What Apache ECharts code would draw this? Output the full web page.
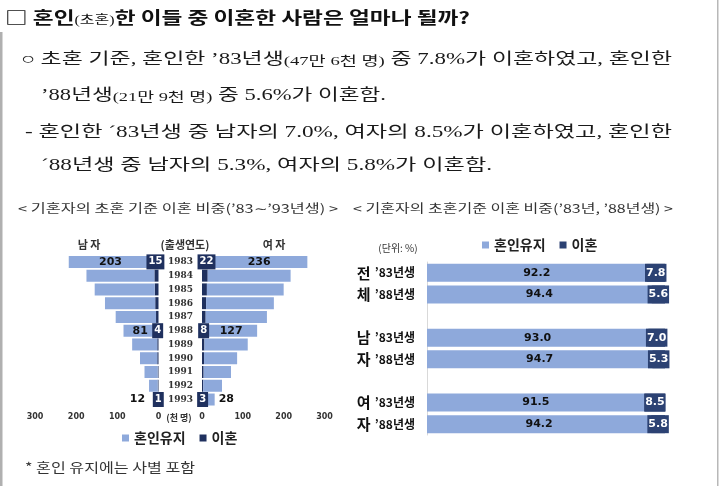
<!DOCTYPE html>
<html><head><meta charset="utf-8">
<script src="https://cdn.jsdelivr.net/npm/echarts@6/dist/echarts.min.js"></script>
<style>html,body{margin:0;padding:0;background:#fff}#c{width:720px;height:486px}</style>
</head><body><div id="c"></div>
<script>
// ---- data ----
const years = ['1983','1984','1985','1986','1987','1988','1989','1990','1991','1992','1993'];
const maleMaintain   = [203,165,146,122,98,81,61,42,32,21,12];
const maleDivorce    = [15,10,9,8,6,4,3,3,2,2,1];
const femaleMaintain = [236,203,188,166,150,127,106,81,67,46,28];
const femaleDivorce  = [22,14,12,10,9,8,6,5,4,3,3];
const labeledYears = ['1983','1988','1993'];
const pyramidTicks = [0,100,200,300];

const rowGroup = ['전','체','','남','자','','여','자'];
const rowYear  = ['’83년생','’88년생','','’83년생','’88년생','','’83년생','’88년생'];
const shareMaintain = [92.2,94.4,null,93.0,94.7,null,91.5,94.2];
const shareDivorce  = [7.8,5.6,null,7.0,5.3,null,8.5,5.8];
const seriesNames = ['혼인유지','이혼'];

// ---- styles ----
const LIGHT = '#8EA9DB', DARK_L = '#1F305E', DARK_R = '#2C4273';
const SANS = '"Noto Sans CJK KR", sans-serif';
const SERIF = '"Liberation Serif", "Noto Sans CJK KR", serif';
const NUM = '"DejaVu Sans", sans-serif';

const mctx = document.createElement('canvas').getContext('2d');
function fitText(segs, x, y, width, fill) {
  let total = 0; const rich = {}; let str = '';
  segs.forEach((s, i) => {
    const fw = s.w || 'normal', ff = s.f || SERIF;
    mctx.font = fw + ' ' + s.s + 'px ' + ff;
    total += mctx.measureText(s.t).width;
    rich['p' + i] = {fontSize: s.s, fontWeight: fw, fontFamily: ff, fill: fill, verticalAlign: 'bottom'};
    str += '{p' + i + '|' + s.t + '}';
  });
  return {type: 'text', x: x, y: y, scaleX: width / total, silent: true,
    style: {text: str, rich: rich, fill: fill, textAlign: 'left', align: 'left',
            textVerticalAlign: 'middle', verticalAlign: 'middle'}};
}
function centerText(t, x, y, font) {
  return {type:'text', x:x, y:y, silent:true, style:{text:t, font:font, fill:'#333', textAlign:'center', align:'center', textVerticalAlign:'middle', verticalAlign:'middle'}};
}

const graphics = [
  {type:'rect', shape:{x:0,y:32,width:2.5,height:454}, style:{fill:'#b0b0b0'}, silent:true},
  {type:'rect', shape:{x:717,y:0,width:1.5,height:486}, style:{fill:'#b8b8b8'}, silent:true},
  fitText([{t:'□ 혼인', s:17, w:'bold', f:SANS},{t:'(초혼)', s:12, f:SERIF},{t:'한 이들 중 이혼한 사람은 얼마나 될까?', s:17, w:'bold', f:SANS}], 5, 18, 465, '#111'),
  fitText([{t:'○ 초혼 기준, 혼인한 ’83년생', s:16},{t:'(47만 6천 명)', s:13},{t:' 중 7.8%가 이혼하였고, 혼인한', s:16}], 21, 60, 651, '#1a1a1a'),
  fitText([{t:'’88년생', s:16},{t:'(21만 9천 명)', s:13},{t:' 중 5.6%가 이혼함.', s:16}], 41, 96, 345, '#1a1a1a'),
  fitText([{t:'- 혼인한 ´83년생 중 남자의 7.0%, 여자의 8.5%가 이혼하였고, 혼인한', s:16}], 25, 133, 647, '#1a1a1a'),
  fitText([{t:'´88년생 중 남자의 5.3%, 여자의 5.8%가 이혼함.', s:16}], 41, 166, 451, '#1a1a1a'),
  fitText([{t:'< 기혼자의 초혼 기준 이혼 비중(’83∼’93년생) >', s:12, f:SANS}], 18, 208, 320, '#333'),
  fitText([{t:'< 기혼자의 초혼기준 이혼 비중(’83년, ’88년생) >', s:12, f:SANS}], 353, 208, 320, '#333'),
  fitText([{t:'* 혼인 유지에는 사별 포함', s:13, f:SANS}], 25, 467, 170, '#333'),
  centerText('남 자', 89, 245, 'bold 11px ' + SANS),
  centerText('(출생연도)', 185, 245, 'bold 11px ' + SANS),
  centerText('여 자', 274, 245, 'bold 11px ' + SANS),
  centerText('(천 명)', 179, 418, 'bold 9px ' + SANS),
  centerText('(단위: %)', 398, 248, '10px ' + SANS)
];

// ---- pyramid data items ----
function divItems(vals) {
  return vals.map((v, i) => labeledYears.includes(years[i]) ? {
    value: v,
    label: {show: true, position: 'inside', color: '#fff', fontFamily: NUM, fontWeight: 'bold', fontSize: 10,
            backgroundColor: DARK_L, padding: [2, 2], lineHeight: 11}
  } : v);
}
function keepItems(vals, outerPos, outerDist) {
  return vals.map((v, i) => {
    if (!labeledYears.includes(years[i])) return v;
    const last = i === vals.length - 1;
    return {value: v, label: {show: true, position: last ? outerPos : 'inside', distance: outerDist,
            color: '#111', fontFamily: NUM, fontWeight: 'bold', fontSize: 11}};
  });
}

const pyrX = (idx, inverse) => ({
  type: 'value', gridIndex: idx, min: 0, max: 300, interval: 100, inverse: inverse,
  axisLine: {show: false}, axisTick: {show: false}, splitLine: {show: false},
  axisLabel: {show: true, margin: 7, color: '#333', fontFamily: NUM, fontWeight: 'bold', fontSize: 8,
              customValues: pyramidTicks}
});

const option = {
  animation: false,
  backgroundColor: '#fff',
  graphic: graphics,
  legend: [
    {left: 117, top: 426, itemWidth: 7, itemHeight: 7, itemGap: 14, icon: 'rect',
     textStyle: {fontFamily: SANS, fontWeight: 'bold', fontSize: 14, color: '#222'},
     data: [{name: seriesNames[0], itemStyle: {color: LIGHT}}, {name: seriesNames[1], itemStyle: {color: DARK_L}}]},
    {left: 477, top: 233, itemWidth: 7, itemHeight: 7, itemGap: 14, icon: 'rect',
     textStyle: {fontFamily: SANS, fontWeight: 'bold', fontSize: 14, color: '#222'},
     data: [{name: seriesNames[0], itemStyle: {color: LIGHT}}, {name: seriesNames[1], itemStyle: {color: DARK_R}}]}
  ],
  grid: [
    {left: 35, top: 255, width: 123.5, height: 151.4},
    {left: 202, top: 255, width: 122.5, height: 151.4},
    {left: 427, top: 262, width: 238, height: 173}
  ],
  xAxis: [
    pyrX(0, true),
    pyrX(1, false),
    {type: 'value', gridIndex: 2, min: 0, max: 100, show: false}
  ],
  yAxis: [
    {type: 'category', gridIndex: 0, data: years, inverse: true, position: 'right',
     axisLine: {show: false}, axisTick: {show: false},
     axisLabel: {show: true, margin: 22, align: 'center', color: '#333', fontFamily: '"DejaVu Serif", serif', fontWeight: 'bold', fontSize: 9}},
    {type: 'category', gridIndex: 1, data: years, inverse: true, show: false},
    {type: 'category', gridIndex: 2, data: rowGroup.map((g, i) => g + rowYear[i] + '#' + i), inverse: true,
     axisLine: {show: true, lineStyle: {color: '#d9d9d9', width: 1}}, axisTick: {show: false},
     axisLabel: {margin: 12, align: 'right', color: '#111',
       formatter: (v, i) => rowGroup[i] ? '{g|' + rowGroup[i] + '}{y|' + rowYear[i] + '}' : '',
       rich: {g: {fontFamily: SANS, fontWeight: 'bold', fontSize: 15, width: 18, align: 'left', color: '#111'},
              y: {fontFamily: SANS, fontWeight: 'bold', fontSize: 12, color: '#111'}}}}
  ],
  series: [
    {name: seriesNames[1], type: 'bar', xAxisIndex: 0, yAxisIndex: 0, stack: 'm', barWidth: 12,
     itemStyle: {color: DARK_L}, data: divItems(maleDivorce)},
    {name: seriesNames[0], type: 'bar', xAxisIndex: 0, yAxisIndex: 0, stack: 'm', barWidth: 12,
     itemStyle: {color: LIGHT}, data: keepItems(maleMaintain, 'left', 8)},
    {name: seriesNames[1], type: 'bar', xAxisIndex: 1, yAxisIndex: 1, stack: 'f', barWidth: 12,
     itemStyle: {color: DARK_L}, data: divItems(femaleDivorce)},
    {name: seriesNames[0], type: 'bar', xAxisIndex: 1, yAxisIndex: 1, stack: 'f', barWidth: 12,
     itemStyle: {color: LIGHT}, data: keepItems(femaleMaintain, 'right', 4)},
    {name: seriesNames[0], type: 'bar', xAxisIndex: 2, yAxisIndex: 2, stack: 's', barWidth: 18,
     itemStyle: {color: LIGHT}, data: shareMaintain,
     label: {show: true, position: 'inside', color: '#111', fontFamily: NUM, fontWeight: 'bold', fontSize: 11,
             formatter: p => p.value == null ? '' : p.value.toFixed(1)}},
    {name: seriesNames[1], type: 'bar', xAxisIndex: 2, yAxisIndex: 2, stack: 's', barWidth: 18,
     itemStyle: {color: DARK_R}, data: shareDivorce,
     label: {show: true, position: 'inside', color: '#fff', fontFamily: NUM, fontWeight: 'bold', fontSize: 11,
             backgroundColor: DARK_R, padding: [3, 1], lineHeight: 12,
             formatter: p => p.value == null ? '' : p.value.toFixed(1)}}
  ]
};
const chart = echarts.init(document.getElementById('c'));
chart.setOption(option);
</script>
</body></html>
